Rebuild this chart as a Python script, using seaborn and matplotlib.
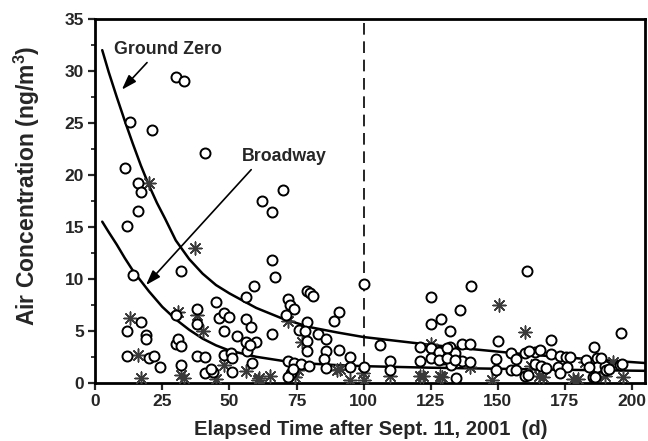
import numpy as np
import pandas as pd
import seaborn as sns
import matplotlib.pyplot as plt

# Ground Zero samples (open circles)
gz_day = [30, 33, 13, 21, 41, 11, 16, 17, 16, 12, 14, 32, 70, 62, 66, 66, 67, 100, 161, 140,
          125, 136, 129, 125, 132, 150, 170, 186, 196, 106,
          59, 56, 45, 79, 80, 81, 91, 89, 72, 72.4, 74, 71, 38, 38, 30, 46, 48, 50, 48, 56,
          58, 53, 56, 60, 66, 79, 76, 78, 79, 83, 86, 79, 86, 91, 95, 95, 100, 110, 110,
          12, 17, 19, 19, 11.7, 20, 22, 24, 30, 31, 32, 32, 38, 41, 41, 44, 43, 48, 50.5, 51,
          51, 56.4, 58.5, 72, 74, 76.5, 79.5, 73, 72, 73.7, 85.3, 86, 57.8,
          121, 125, 121, 125, 129.5, 132, 134, 132.6, 134.6, 136.6, 139.5, 136.6, 139.5, 128, 131,
          128, 131, 134, 149.5, 149.5, 155, 155, 156.6, 160, 160, 164, 164, 166, 170, 173, 172.6,
          175.5, 175.6, 183, 185.4, 187, 187, 190, 190.5, 195.4, 173, 161.7, 165.6, 176.8, 168,
          184, 188.3, 191.4, 196.4, 186.4, 156.6, 161.3]
gz_conc = [29.4, 29.0, 25.1, 24.3, 22.1, 20.7, 19.2, 18.4, 16.5, 15.1, 10.4, 10.8, 18.5, 17.5, 16.4, 11.8, 10.2, 9.5, 10.8, 9.3,
           8.3, 7.0, 6.1, 5.7, 5.0, 4.0, 4.1, 3.4, 4.8, 3.6,
           9.3, 8.3, 7.8, 8.8, 8.6, 8.35, 6.8, 5.9, 8.1, 7.5, 7.1, 6.5, 7.1, 5.7, 6.5, 6.2, 6.7, 6.3, 5.0, 6.1,
           5.4, 4.5, 3.9, 3.9, 4.7, 5.8, 5.1, 5.0, 4.0, 4.7, 4.25, 3.1, 3.1, 3.15, 2.5, 1.55, 1.5, 2.1, 1.2,
           5.0, 5.8, 4.6, 4.2, 2.6, 2.4, 2.6, 1.5, 3.7, 4.2, 3.55, 1.7, 2.6, 2.5, 0.9, 1.0, 1.3, 2.7, 2.9, 2.4,
           1.0, 3.1, 1.9, 2.1, 1.95, 1.8, 1.6, 0.95, 0.6, 1.3, 2.25, 1.4, 3.6,
           3.4, 3.35, 2.05, 2.4, 2.3, 3.4, 2.9, 1.7, 0.5, 3.75, 3.75, 2.1, 2.0, 3.0, 3.3,
           2.2, 2.4, 2.2, 2.3, 1.2, 2.9, 1.2, 2.25, 2.9, 0.7, 3.0, 1.85, 1.6, 2.8, 2.55, 1.5,
           2.5, 1.5, 2.2, 0.55, 2.4, 1.5, 1.6, 1.2, 1.7, 0.95, 3.1, 3.15, 2.5, 1.4,
           1.5, 2.35, 1.3, 1.8, 0.6, 1.2, 0.74]

# Broadway samples (asterisks)
bw_day = [20, 37, 13, 16, 17, 31, 38, 40, 32, 33, 45, 48, 56, 60.5, 65, 72, 74.6, 90, 95, 100,
          110, 121, 128.4, 125, 133, 139.5, 150.5, 160.3, 162.4, 165.5, 167, 178, 187, 190, 196.5,
          182.4, 193, 148, 61, 75.7, 91.3, 99.6, 77, 122, 129.3, 180]
bw_conc = [19.2, 13.0, 6.2, 2.7, 0.5, 6.8, 6.5, 5.0, 0.75, 0.5, 0.4, 1.7, 1.15, 0.3, 0.7, 5.9, 0.6, 1.2, 0.3, 0.25,
           0.7, 0.65, 0.65, 3.75, 2.0, 1.5, 7.5, 4.9, 1.6, 0.65, 0.6, 0.4, 0.9, 0.65, 0.55,
           2.0, 2.0, 0.3, 0.5, 1.2, 1.3, 0.9, 3.9, 0.7, 0.6, 0.4]

# fitted decay curves
gz_fit_day = [2.6, 5, 8, 11, 14, 17, 20, 23, 26, 30, 35, 40, 45, 50, 60, 70, 80, 90, 100, 110, 125, 140, 160, 180, 205]
gz_fit_conc = [32.0, 29.9, 27.5, 25.2, 23.0, 20.9, 19.0, 17.3, 15.8, 13.7, 11.9, 10.5, 9.4, 8.6, 7.2, 6.15, 5.35,
               4.85, 4.4, 4.1, 3.65, 3.25, 2.75, 2.35, 1.9]
bw_fit_day = [2.6, 5, 8, 11, 14, 17, 20, 25, 30, 35, 40, 45, 50, 60, 70, 80, 90, 100, 125, 150, 175, 205]
bw_fit_conc = [15.5, 14.5, 13.3, 12.0, 10.8, 9.8, 8.8, 7.3, 6.1, 5.1, 4.25, 3.6, 3.1, 2.5, 2.1, 1.85, 1.7, 1.6,
               1.45, 1.35, 1.25, 1.15]

cutoff_day = 100

sns.set_style("ticks")
plt.rcParams['font.family'] = ['Liberation Sans', 'DejaVu Sans']
plt.rcParams['font.weight'] = 'bold'
plt.rcParams['mathtext.fontset'] = 'custom'
plt.rcParams['mathtext.bf'] = 'Liberation Sans:bold'
plt.rcParams['mathtext.default'] = 'bf'

fig, ax = plt.subplots(figsize=(6.48, 4.41), dpi=100)
fig.subplots_adjust(left=0.147, right=0.996, bottom=0.132, top=0.957)

sns.lineplot(x=gz_fit_day, y=gz_fit_conc, color="black", lw=1.8, ax=ax)
sns.lineplot(x=bw_fit_day, y=bw_fit_conc, color="black", lw=1.8, ax=ax)

sns.scatterplot(x=bw_day, y=bw_conc, marker=(8, 2, 0), s=85, color="#3a3a3a",
                linewidth=1.1, ax=ax, zorder=3)
sns.scatterplot(x=gz_day, y=gz_conc, marker="o", s=52, facecolor="white",
                edgecolor="black", linewidth=1.4, ax=ax, zorder=4)

ax.axvline(cutoff_day, color="black", lw=1.2, ls=(0, (7, 4)), zorder=1)

# labels with arrows
ax.text(27, 32.1, "Ground Zero", ha="center", va="center", fontsize=12.8, fontweight="bold")
ax.annotate("", xy=(9.2, 28.0), xytext=(20, 31.0),
            arrowprops=dict(arrowstyle="-|>,head_length=0.9,head_width=0.3", color="black", lw=1.2))
ax.text(70.5, 21.8, "Broadway", ha="center", va="center", fontsize=12.8, fontweight="bold")
ax.annotate("", xy=(18.2, 9.2), xytext=(58.8, 20.7),
            arrowprops=dict(arrowstyle="-|>,head_length=0.9,head_width=0.3", color="black", lw=1.2))

ax.set_xlim(0, 205)
ax.set_ylim(0, 35)
ax.set_xticks(np.arange(0, 201, 25))
ax.set_yticks(np.arange(0, 36, 5))
ax.set_yticks(np.arange(2.5, 35, 5), minor=True)
ax.tick_params(axis="both", which="major", length=5, width=1.6, labelsize=12.5, pad=3)
ax.tick_params(axis="y", which="minor", length=3, width=1.3)
for lab in ax.get_xticklabels() + ax.get_yticklabels():
    lab.set_fontweight("bold")

for sp in ax.spines.values():
    sp.set_linewidth(2.0)
    sp.set_color("black")

ax.set_xlabel("Elapsed Time after Sept. 11, 2001  (d)", fontsize=14.5, fontweight="bold", labelpad=8)
ax.set_ylabel("Air Concentration (ng/m$^3$)", fontsize=16.5, fontweight="bold")
ax.yaxis.set_label_coords(-0.097, 0.54)

plt.savefig("out.png", dpi=100)
plt.close()
